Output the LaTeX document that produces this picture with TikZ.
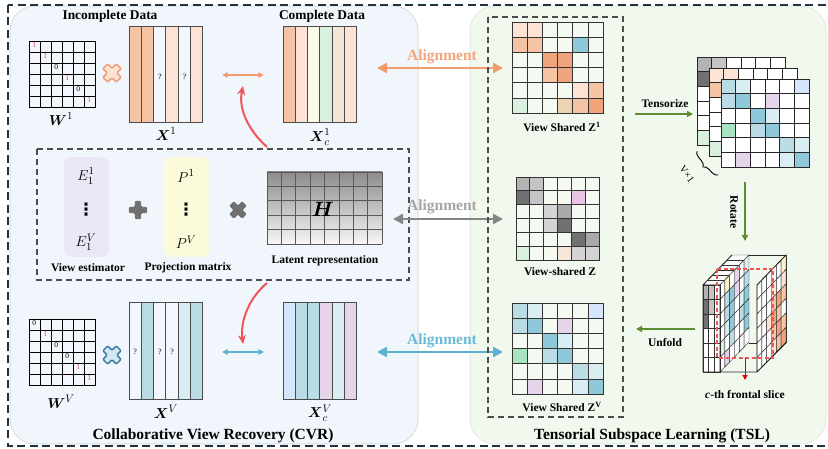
\documentclass[tikz,border=0pt]{standalone}
\usepackage{amsmath}
\usepackage{fontspec}
\setmainfont{Liberation Serif}
\newfontfamily\djv{DejaVu Sans}
\usetikzlibrary{arrows.meta,decorations.pathreplacing,calc}
\definecolor{bgL}{HTML}{F1F6FD}
\definecolor{bgR}{HTML}{F1F8EE}
\definecolor{navy}{HTML}{1E3440}
\definecolor{w}{HTML}{F4FAF1}
\definecolor{W}{HTML}{FFFFFF}
\definecolor{xw}{HTML}{F3F7FD}
\definecolor{or0}{HTML}{FCE3D5}
\definecolor{or1}{HTML}{F5C4A5}
\definecolor{or2}{HTML}{F0A47E}
\definecolor{yel}{HTML}{FBFBEA}
\definecolor{yel2}{HTML}{FBF5C8}
\definecolor{grn}{HTML}{D9F0DF}
\definecolor{tanc}{HTML}{F2E6D6}
\definecolor{tan2}{HTML}{EDD3B2}
\definecolor{tl0}{HTML}{D8EEF2}
\definecolor{tl1}{HTML}{BADDE5}
\definecolor{tl2}{HTML}{8FC9D9}
\definecolor{lb}{HTML}{D6E6FA}
\definecolor{lav}{HTML}{E6D5EA}
\definecolor{gr2}{HTML}{A8E3C2}
\definecolor{ga}{HTML}{B3B3B3}
\definecolor{gb}{HTML}{C4C4C4}
\definecolor{gc}{HTML}{717171}
\definecolor{gd}{HTML}{D4D4D4}
\definecolor{ge}{HTML}{A9A9A9}
\definecolor{pk}{HTML}{E9C2E6}
\definecolor{tn3}{HTML}{F5E8D8}
\definecolor{lavbox}{HTML}{EBE7F6}
\definecolor{yelbox}{HTML}{FBFBDB}
\definecolor{oarr}{HTML}{F09C70}
\definecolor{otxt}{HTML}{F2A67C}
\definecolor{barr}{HTML}{5BB3D0}
\definecolor{btxt}{HTML}{6BBAD6}
\definecolor{garr}{HTML}{858585}
\definecolor{gtxt}{HTML}{A6A6A6}
\definecolor{redc}{HTML}{F25555}
\definecolor{grnarr}{HTML}{5E8C31}
\definecolor{onered}{HTML}{E8455A}
\definecolor{bluex}{HTML}{3F7FA0}
\definecolor{bluexf}{HTML}{D0E8F0}
\definecolor{grayx}{HTML}{707070}

\newcommand\mygrid[5]{%
  \foreach \rowlist [count=\rr from 0] in {#5} {
    \foreach \cc [count=\kk from 0] in \rowlist {
      \filldraw[fill=\cc, draw=#4, line width=0.7]
        ({#1+\kk*#3},{#2+\rr*#3}) rectangle ++(#3,#3);
    }}}
\newcommand\mycols[3]{%
  \foreach \cc [count=\kk from 0] in {#3} {
    \filldraw[fill=\cc, draw=black!70, line width=1]
      ({#1+\kk*12.33},#2) rectangle ++(12.33,96);
  }}
% oblique side face: 6 rows x 6 depth columns, front edge at x=#1
\newcommand\sideface[2]{%
  \foreach \rowlist [count=\rr from 0] in {#2} {
    \foreach \cc [count=\kk from 0] in \rowlist {
      \filldraw[fill=\cc, draw=black!80, line width=0.45]
        ({#1+\kk*4.8333},{285+\rr*14.5-\kk*5}) -- ++(4.8333,-5) -- ++(0,14.5) -- ++(-4.8333,5) -- cycle;
    }}}

\tikzset{
  plusshape/.pic={
    \path[pic actions, rounded corners=1.2pt]
      (-3.4,-9.5) -- (3.4,-9.5) -- (3.4,-3.4) -- (9.5,-3.4) -- (9.5,3.4) -- (3.4,3.4)
      -- (3.4,9.5) -- (-3.4,9.5) -- (-3.4,3.4) -- (-9.5,3.4) -- (-9.5,-3.4) -- (-3.4,-3.4) -- cycle;
  },
  lbl/.style={font=\bfseries\fontsize{11.5}{13}\selectfont, inner sep=0},
  head/.style={font=\bfseries\fontsize{13.4}{15}\selectfont, inner sep=0},
  title/.style={font=\bfseries\fontsize{15.5}{18}\selectfont, inner sep=0},
  aligntxt/.style={font=\bfseries\fontsize{15.5}{18}\selectfont, inner sep=0},
  mathlbl/.style={font=\fontsize{15.5}{18}\selectfont, inner sep=0},
  dotslbl/.style={font=\djv\bfseries\fontsize{17}{18}\selectfont, inner sep=0},
  qm/.style={font=\fontsize{8}{9}\selectfont, inner sep=0},
  wnum/.style={font=\fontsize{7.5}{8}\selectfont, inner sep=0},
  midbox/.style={draw=black!70, line width=1.2, dash pattern=on 6pt off 4pt},
  ghost/.style={inner sep=0, minimum size=0},
  alarrow/.style={line width=2.6, {Triangle[length=10pt,width=10pt]}-{Triangle[length=10pt,width=10pt]}},
  smarrow/.style={line width=1.4, {Triangle[length=5.5pt,width=5.5pt]}-{Triangle[length=5.5pt,width=5.5pt]}},
  redarrow/.style={draw=redc, line width=2, -{Stealth[length=9pt,width=8pt]}},
  grnarrow/.style={draw=grnarr, line width=1.5, -{Triangle[length=6pt,width=6pt]}},
}

\begin{document}
\begin{tikzpicture}[x=1pt,y=-1pt]
\useasboundingbox (0,0) rectangle (828,449);
\fill[white] (0,0) rectangle (828,449);

% panels
\filldraw[fill=bgL, draw=black!18, line width=0.6, rounded corners=25] (10,6) rectangle (418,444);
\filldraw[fill=bgR, draw=black!12, line width=0.6, rounded corners=25] (470,6) rectangle (826,444);
% outer dashed border
\draw[navy, line width=2.3, dash pattern=on 8pt off 4.5pt] (8,5) rectangle (832,446);

% ---------- top row (view 1)
\node[head] (tinc) at (110,16) {Incomplete Data};
\node[head] (tcomp) at (322,16) {Complete Data};

\mygrid{29}{41}{11}{black}{{xw,xw,xw,xw,xw,xw},{xw,xw,xw,xw,xw,xw},{xw,xw,xw,xw,xw,xw},{xw,xw,xw,xw,xw,xw},{xw,xw,xw,xw,xw,xw},{xw,xw,xw,xw,xw,xw}}
\foreach \v/\c [count=\i from 0] in {1/onered,1/onered,0/black,1/onered,0/black,1/onered}
  \node[wnum, text=\c] (wa\i) at ({29+\i*11+5.3},{41+\i*11+4.2}) {\v};
\node[mathlbl] (lW1) at (61,119) {$\boldsymbol{W}^{1}$};
\pic[draw=oarr, fill=or0, line width=1.5, rotate=45] at (112,73) {plusshape};

\mycols{129}{27}{or1,or1,xw,or0,xw,or0}
\node[ghost, minimum width=74, minimum height=96] (X1) at (166,75) {};
\node[qm] (q1) at (159.8,77) {?};
\node[qm] (q2) at (184.5,77) {?};
\node[mathlbl] (lX1) at (166,134) {$\boldsymbol{X}^{1}$};

\mycols{283}{27}{or1,or0,yel,grn,tanc,or0}
\node[ghost, minimum width=74, minimum height=96] (Xc1) at (320,75) {};
\node[mathlbl] (lXc1) at (320,137) {$\boldsymbol{X}_{c}^{1}$};

\draw[smarrow, draw=oarr, fill=oarr] ([xshift=19]X1.east) -- ([xshift=-19]Xc1.west);

% ---------- middle dashed box
\draw[midbox] (37,149) rectangle (409,280);
\filldraw[fill=lavbox, draw=none, rounded corners=7] (64,157) rectangle (109,257);
\filldraw[fill=yelbox, draw=none, rounded corners=7] (164,157) rectangle (209,257);
\node[mathlbl] (E1) at (86,176) {$E_1^1$};
\node[dotslbl] (Ed) at (86,210) {⋮};
\node[mathlbl] (EV) at (86,242) {$E_1^V$};
\node[mathlbl] (P1) at (186,176) {$P^1$};
\node[dotslbl] (Pd) at (186,210) {⋮};
\node[mathlbl] (PV) at (186,242) {$P^V$};
\node[lbl] (lve) at (88,268) {View estimator};
\node[lbl] (lpm) at (188,268) {Projection matrix};
\pic[fill=grayx, rotate=0, scale=0.95] at (138,210) {plusshape};
\pic[fill=grayx, rotate=45, scale=0.95] at (238,210) {plusshape};

\shade[top color=black!45, bottom color=black!3] (267,172) rectangle (382,244);
\foreach \i in {0,...,8} \draw[black!65, line width=0.7] ({267+\i*14.375},172) -- ({267+\i*14.375},244);
\foreach \j in {0,...,5} \draw[black!65, line width=0.7] (267,{172+\j*14.4}) -- (382,{172+\j*14.4});
\node[ghost, minimum width=115, minimum height=72] (Hgrid) at (324.5,208) {};
\node[font=\fontsize{20}{22}\selectfont, inner sep=0] (Hlbl) at (323,209) {$\boldsymbol{H}$};
\node[lbl] (llr) at (325,261) {Latent representation};

% red curved arrows
\coordinate (rs1) at (267,147);
\coordinate (re1) at (243,86);
\coordinate (rs2) at (267,283);
\coordinate (re2) at (243,344);
\draw[redarrow] (rs1) .. controls (250,132) and (238,110) .. (re1);
\draw[redarrow] (rs2) .. controls (250,297) and (240,320) .. (re2);

% ---------- bottom row (view V)
\mygrid{29}{319}{11}{black}{{xw,xw,xw,xw,xw,xw},{xw,xw,xw,xw,xw,xw},{xw,xw,xw,xw,xw,xw},{xw,xw,xw,xw,xw,xw},{xw,xw,xw,xw,xw,xw},{xw,xw,xw,xw,xw,xw}}
\foreach \v/\c [count=\i from 0] in {0/black,1/onered,0/black,0/black,1/onered,1/onered}
  \node[wnum, text=\c] (wb\i) at ({29+\i*11+5.3},{319+\i*11+4.2}) {\v};
\node[mathlbl] (lWV) at (61,402) {$\boldsymbol{W}^{V}$};
\pic[draw=bluex, fill=bluexf, line width=1.5, rotate=45] at (112,355) {plusshape};

\mycols{129}{303}{xw,tl1,xw,xw,tl0,tl1}
\node[ghost, minimum width=74, minimum height=96] (XV) at (166,351) {};
\node[qm] (q3) at (135.2,352) {?};
\node[qm] (q4) at (159.8,352) {?};
\node[qm] (q5) at (172.2,352) {?};
\node[mathlbl] (lXV) at (166,412) {$\boldsymbol{X}^{V}$};

\mycols{283}{303}{lb,tl1,tl1,lav,tl0,lav}
\node[ghost, minimum width=74, minimum height=96] (XcV) at (320,351) {};
\node[mathlbl] (lXcV) at (320,413) {$\boldsymbol{X}_{c}^{V}$};
\draw[smarrow, draw=barr, fill=barr] ([xshift=19,yshift=-1]XV.east) -- ([xshift=-19,yshift=-1]XcV.west);

\node[title] (tcvr) at (213,436) {Collaborative View Recovery (CVR)};

% ---------- alignment arrows
\coordinate (ao1) at (377,68);  \coordinate (ao2) at (503,68);
\coordinate (ag1) at (393,219); \coordinate (ag2) at (503,219);
\coordinate (ab1) at (377,352); \coordinate (ab2) at (503,352);
\draw[alarrow, draw=oarr, fill=oarr] (ao1) -- (ao2);
\draw[alarrow, draw=garr, fill=garr] (ag1) -- (ag2);
\draw[alarrow, draw=barr, fill=barr] (ab1) -- (ab2);
\node[aligntxt, text=otxt] (al1) at (442,57) {Alignment};
\node[aligntxt, text=gtxt] (al2) at (442,207) {Alignment};
\node[aligntxt, text=btxt] (al3) at (442,341) {Alignment};

% ---------- right panel
\draw[midbox] (488,17) rectangle (623,417);
\mygrid{512}{22}{15.2}{black!80}{{or0,or0,w,w,w,w},{or1,or1,w,w,tl2,w},{w,w,or2,or2,w,w},{w,w,or1,or2,w,w},{w,w,w,w,or0,or1},{grn,w,w,tan2,or1,or2}}
\node[lbl] (lz1) at (562,127) {View Shared Z\textsuperscript{1}};
\mygrid{516}{177}{13.83}{black!80}{{ga,gb,w,w,w,w},{gc,gb,w,w,pk,w},{w,w,gd,ge,w,w},{w,w,gd,gc,w,w},{w,w,w,w,gc,ge},{grn,w,w,tn3,gd,gd}}
\node[lbl] (lz) at (560,272) {View-shared Z};
\mygrid{512}{303}{15.2}{black!80}{{tl1,tl0,w,w,w,lb},{tl1,tl2,w,lav,w,w},{w,w,tl2,tl0,w,w},{gr2,w,tl1,tl2,w,w},{w,w,w,w,tl1,tl0},{w,lav,w,w,tl0,tl2}}
\node[lbl] (lzv) at (562,407) {View Shared Z\textsuperscript{V}};

% tensor stack
\mygrid{697}{57}{14.7}{black!85}{{ga,gb,W,W,W,W},{gc,gb,W,W,pk,W},{W,W,gd,ge,W,W},{W,W,gd,gc,W,W},{W,W,W,W,gc,ge},{grn,W,W,tn3,gd,gd}}
\mygrid{709}{68}{14.7}{black!85}{{or0,or0,W,W,W,W},{or1,or1,W,W,tl2,W},{W,W,or2,or2,W,W},{W,W,or1,or2,W,W},{W,W,W,W,or0,or1},{grn,W,W,tan2,or1,or2}}
\mygrid{721}{79}{14.7}{black!85}{{tl1,tl0,W,W,W,lb},{tl1,tl2,W,lav,W,W},{W,W,tl2,tl0,W,W},{gr2,W,tl1,tl2,W,W},{W,W,W,W,tl1,tl0},{W,lav,W,W,tl0,tl2}}
\draw[black, line width=0.9, decorate, decoration={brace, amplitude=6pt}] (718,175) -- (697,151);
\node[font=\fontsize{10}{11}\selectfont, inner sep=0, rotate=-55] (vx1) at (687,174) {V×1};

\coordinate (ts1) at (635,114); \coordinate (ts2) at (693,114);
\draw[grnarrow] (ts1) -- (ts2);
\node[lbl] (ltens) at (665,104) {Tensorize};
\coordinate (ro1) at (745,182); \coordinate (ro2) at (745,241);
\draw[grnarrow] (ro1) -- (ro2);
\node[lbl, rotate=-90] (lrot) at (734,212) {Rotate};
\coordinate (un1) at (695,329); \coordinate (un2) at (636,329);
\draw[grnarrow] (un1) -- (un2);
\node[lbl] (lunf) at (665,343) {Unfold};

% tensor cube
\draw[black!85, line width=0.7] (732,255) -- (786,255) -- (786,343) (749,343) -- (757,343);
\sideface{757}{{W,W,W,W,W,yel2},{W,W,W,or0,W,or0},{W,W,W,or1,or2,or1},{W,W,or0,or2,or1,W},{W,W,W,or1,or2,or1},{W,W,W,or0,or1,or2}}
\filldraw[fill=W, draw=black!80, line width=0.45] (703,285) -- (720,285) -- (749,255) -- (732,255) -- cycle;
\foreach \t in {1,...,5} \draw[black!80, line width=0.45] ({703+\t*4.8333},{285-\t*5}) -- ({720+\t*4.8333},{285-\t*5});
\sideface{720}{{W,yel2,W,lav,W,tl0},{W,tl1,tl2,lav,W,tl1},{W,tl1,tl2,W,tl0,tl2},{W,tl0,tl2,W,tl1,tl2},{grn,W,tl1,W,W,tl2},{W,lav,W,W,W,W}}
\foreach \cc [count=\rr from 0] in {ga,gc,gc,W,W,W}
  \filldraw[fill=\cc, draw=black!80, line width=0.45] (703,{285+\rr*14.5}) rectangle ++(5.667,14.5);
\foreach \cc [count=\rr from 0] in {gb,gb,W,W,W,W}
  \filldraw[fill=\cc, draw=black!80, line width=0.45] (708.667,{285+\rr*14.5}) rectangle ++(5.667,14.5);
\foreach \cc [count=\rr from 0] in {W,W,W,W,W,W}
  \filldraw[fill=\cc, draw=black!80, line width=0.45] (714.333,{285+\rr*14.5}) rectangle ++(5.667,14.5);
\draw[black!85, line width=0.8] (703,285) -- (720,285) (703,372) -- (757,372)
  (703,285) -- (703,372) (720,285) -- (720,372) (757,285) -- (757,372)
  (703,285) -- (732,255) (757,285) -- (786,255) (757,372) -- (786,343);
\draw[redc, line width=1.2, dash pattern=on 4pt off 2.5pt] (717,269) rectangle (773,358);
\coordinate (cs1) at (745,358); \coordinate (cs2) at (745,380);
\draw[red!85!black, line width=1, -{Triangle[length=5pt,width=5pt]}] (cs1) -- (cs2);
\node[lbl] (lcth) at (745,395) {\textit{c}-th frontal slice};

\node[title] (ttsl) at (652,436) {Tensorial Subspace Learning (TSL)};
\end{tikzpicture}
\end{document}
